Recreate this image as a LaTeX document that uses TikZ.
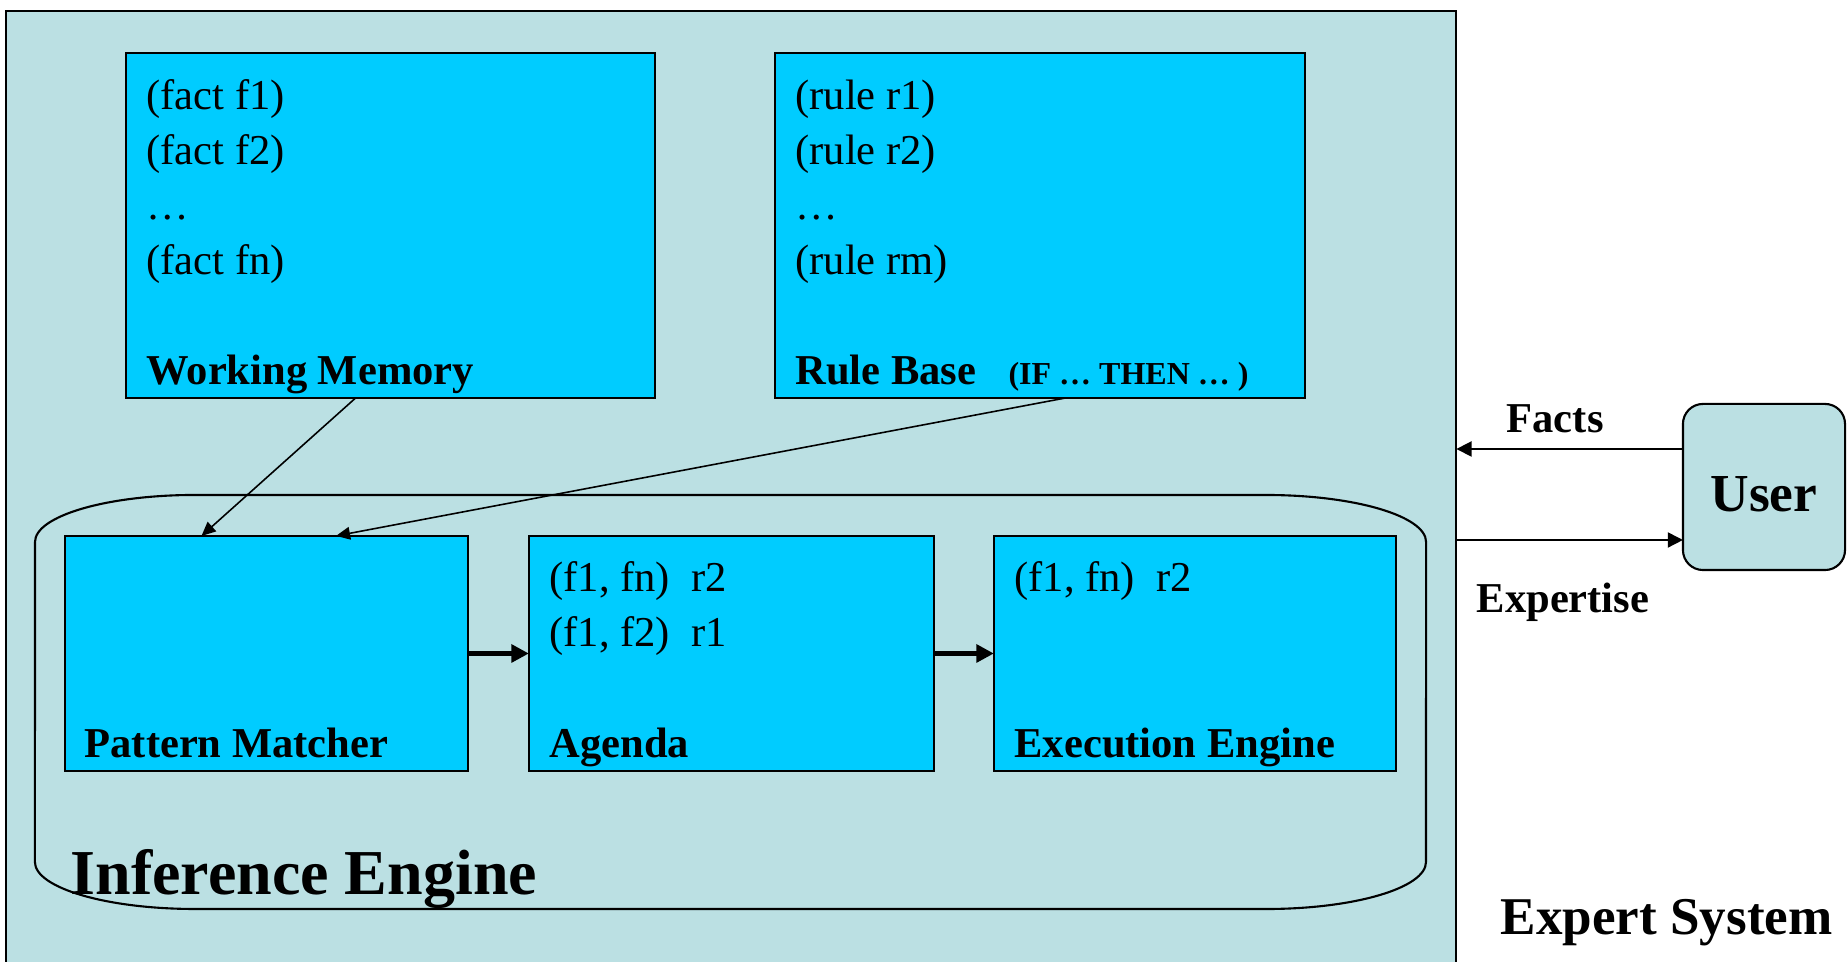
\documentclass[tikz,border=0pt]{standalone}
\usepackage{fontspec}
\setmainfont{Liberation Serif}
\usetikzlibrary{arrows.meta,calc}

\definecolor{sysblue}{RGB}{187,224,227}
\definecolor{boxcyan}{RGB}{0,204,255}

\begin{document}
\begin{tikzpicture}[x = .01cm, y = -.01cm,
    box/.style = {draw, fill = boxcyan, line width = .6pt,
                  inner sep = 0pt, outer sep = 0pt},
    txt/.style = {anchor = base west, inner sep = 0pt,
                  font = \fontsize{12.1}{14}\selectfont},
    lbl/.style = {txt, font = \fontsize{12.1}{14}\selectfont\bfseries},
    feed/.style = {-{Triangle[length = 4pt, width = 3.6pt]}, line width = .45pt},
    flow/.style = {-{Triangle[length = 5pt, width = 5pt]}, line width = 1.4pt}]
  \useasboundingbox (0,0) rectangle (1847,962);

  % the expert system and its user
  \node [draw, fill = sysblue, line width = .6pt, inner sep = 0pt, outer sep = 0pt,
         minimum width = 14.5cm, minimum height = 9.7cm]
    (es) at (731,496) {};
  \node [draw, fill = sysblue, line width = .6pt, rounded corners = .2cm,
         inner sep = 0pt, outer sep = 0pt,
         minimum width = 1.62cm, minimum height = 1.66cm,
         text height = 13.7pt, text depth = 0pt,
         font = \fontsize{15.2}{18}\selectfont\bfseries]
    (user) at (1764,487) {User};

  % inference engine outline
  \draw [line width = .6pt] (35,542)
    arc [start angle = 180, end angle = 90, x radius = 1.6cm, y radius = .47cm]
    -- (1266,495)
    arc [start angle = 90, end angle = 0, x radius = 1.6cm, y radius = .47cm]
    -- (1426,862)
    arc [start angle = 0, end angle = -90, x radius = 1.6cm, y radius = .47cm]
    -- (195,909)
    arc [start angle = 270, end angle = 180, x radius = 1.6cm, y radius = .47cm]
    -- cycle;

  % memory and rules
  \node [box, minimum width = 5.29cm, minimum height = 3.45cm] (wm) at (390.5,225.5) {};
  \node [box, minimum width = 5.3cm, minimum height = 3.45cm] (rb) at (1040,225.5) {};

  \node [txt] at ($(wm.north west)+(20,56.5)$) {(fact f1)};
  \node [txt] at ($(wm.north west)+(20,111.5)$) {(fact f2)};
  \node [txt] at ($(wm.north west)+(20,166.5)$) {…};
  \node [txt] at ($(wm.north west)+(20,221.5)$) {(fact fn)};
  \node [lbl] at ($(wm.south west)+(20,-13.5)$) {Working Memory};

  \node [txt] at ($(rb.north west)+(20,56.5)$) {(rule r1)};
  \node [txt] at ($(rb.north west)+(20,111.5)$) {(rule r2)};
  \node [txt] at ($(rb.north west)+(20,166.5)$) {…};
  \node [txt] at ($(rb.north west)+(20,221.5)$) {(rule rm)};
  \node [lbl] at ($(rb.south west)+(20,-13.5)$) {Rule Base};
  \node [lbl, font = \fontsize{9.1}{11}\selectfont\bfseries]
    at ($(rb.south west)+(233,-13.5)$) {(IF … THEN … )};

  % inference engine parts
  \node [box, minimum width = 4.03cm, minimum height = 2.35cm] (pm) at (266.5,653.5) {};
  \node [box, minimum width = 4.05cm, minimum height = 2.35cm] (ag) at (731.5,653.5) {};
  \node [box, minimum width = 4.02cm, minimum height = 2.35cm] (ex) at (1195,653.5) {};

  \node [lbl] at ($(pm.south west)+(19,-13.5)$) {Pattern Matcher};
  \node [txt] at ($(ag.north west)+(20,55.5)$) {(f1, fn)\ \ r2};
  \node [txt] at ($(ag.north west)+(20,110.5)$) {(f1, f2)\ \ r1};
  \node [lbl] at ($(ag.south west)+(20,-13.5)$) {Agenda};
  \node [txt] at ($(ex.north west)+(20,55.5)$) {(f1, fn)\ \ r2};
  \node [lbl] at ($(ex.south west)+(20,-13.5)$) {Execution Engine};

  \node [lbl, font = \fontsize{18.2}{22}\selectfont\bfseries] at (70,894.5) {Inference Engine};

  % connectors
  \draw [feed] ($(wm.south)+(-35,0)$) -- ($(pm.north)+(-65,0)$);
  \draw [feed] ($(rb.south)+(25,0)$) -- ($(pm.north)+(69.5,0)$);
  \draw [flow] (pm) -- (ag);
  \draw [flow] (ag) -- (ex);
  \draw [feed, -{Triangle[length = 4.3pt, width = 4.3pt]}]
    ($(user.west)+(0,-38)$) -- ($(es.east |- user.west)+(0,-38)$);
  \draw [feed, -{Triangle[length = 4.3pt, width = 4.3pt]}]
    ($(es.east |- user.west)+(0,53)$) -- ($(user.west)+(0,53)$);

  \node [lbl] at (1506,433) {Facts};
  \node [lbl] at (1476,613) {Expertise};
  \node [lbl, font = \fontsize{15.1}{18}\selectfont\bfseries] at (1500,935) {Expert System};
\end{tikzpicture}
\end{document}
